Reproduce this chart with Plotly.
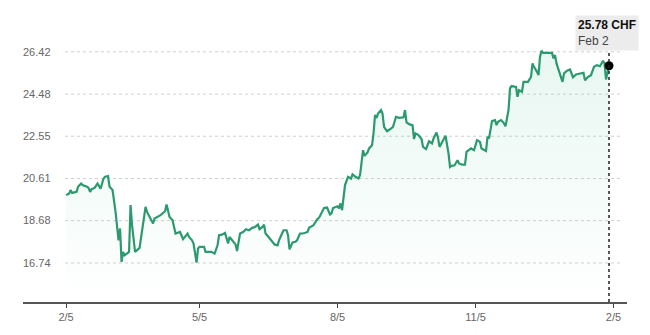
import plotly.graph_objects as go

# ---- data ----
dates = [
    "2023-02-05", "2023-02-07", "2023-02-08", "2023-02-09", "2023-02-12", "2023-02-13", "2023-02-15", "2023-02-16",
    "2023-02-19", "2023-02-20", "2023-02-21", "2023-02-22", "2023-02-24", "2023-02-26", "2023-02-28", "2023-03-02",
    "2023-03-03", "2023-03-05", "2023-03-06", "2023-03-08", "2023-03-10", "2023-03-11", "2023-03-12", "2023-03-13",
    "2023-03-14", "2023-03-15", "2023-03-16", "2023-03-19", "2023-03-20", "2023-03-21", "2023-03-23", "2023-03-26",
    "2023-03-29", "2023-03-30", "2023-03-31", "2023-04-02", "2023-04-04", "2023-04-05", "2023-04-09", "2023-04-12",
    "2023-04-13", "2023-04-15", "2023-04-17", "2023-04-19", "2023-04-22", "2023-04-24", "2023-04-25", "2023-04-27",
    "2023-04-28", "2023-04-30", "2023-05-01", "2023-05-03", "2023-05-04", "2023-05-05", "2023-05-08", "2023-05-09",
    "2023-05-11", "2023-05-13", "2023-05-15", "2023-05-17", "2023-05-18", "2023-05-20", "2023-05-22", "2023-05-24",
    "2023-05-25", "2023-05-28", "2023-05-29", "2023-05-30", "2023-06-01", "2023-06-03", "2023-06-05", "2023-06-07",
    "2023-06-09", "2023-06-11", "2023-06-13", "2023-06-14", "2023-06-16", "2023-06-17", "2023-06-18", "2023-06-20",
    "2023-06-22", "2023-06-24", "2023-06-26", "2023-06-27", "2023-06-29", "2023-06-30", "2023-07-02", "2023-07-03",
    "2023-07-04", "2023-07-06", "2023-07-08", "2023-07-09", "2023-07-11", "2023-07-13", "2023-07-16", "2023-07-17",
    "2023-07-20", "2023-07-22", "2023-07-24", "2023-07-26", "2023-07-27", "2023-07-29", "2023-07-31", "2023-08-01",
    "2023-08-02", "2023-08-05", "2023-08-06", "2023-08-07", "2023-08-08", "2023-08-10", "2023-08-11", "2023-08-12",
    "2023-08-14", "2023-08-15", "2023-08-17", "2023-08-19", "2023-08-20", "2023-08-21", "2023-08-22", "2023-08-23",
    "2023-08-25", "2023-08-26", "2023-08-28", "2023-08-29", "2023-08-30", "2023-08-31", "2023-09-01", "2023-09-03",
    "2023-09-04", "2023-09-05", "2023-09-07", "2023-09-09", "2023-09-11", "2023-09-13", "2023-09-15", "2023-09-18",
    "2023-09-19", "2023-09-20", "2023-09-22", "2023-09-24", "2023-09-25", "2023-09-26", "2023-09-28", "2023-09-30",
    "2023-10-01", "2023-10-03", "2023-10-05", "2023-10-07", "2023-10-08", "2023-10-10", "2023-10-11", "2023-10-12",
    "2023-10-14", "2023-10-16", "2023-10-18", "2023-10-19", "2023-10-20", "2023-10-22", "2023-10-24", "2023-10-25",
    "2023-10-27", "2023-10-29", "2023-10-30", "2023-11-02", "2023-11-04", "2023-11-06", "2023-11-08", "2023-11-09",
    "2023-11-12", "2023-11-13", "2023-11-14", "2023-11-16", "2023-11-18", "2023-11-19", "2023-11-20", "2023-11-22",
    "2023-11-24", "2023-11-25", "2023-11-27", "2023-11-28", "2023-11-29", "2023-12-02", "2023-12-03", "2023-12-04",
    "2023-12-06", "2023-12-07", "2023-12-10", "2023-12-12", "2023-12-13", "2023-12-14", "2023-12-16", "2023-12-17",
    "2023-12-18", "2023-12-19", "2023-12-20", "2023-12-23", "2023-12-26", "2023-12-27", "2023-12-28", "2023-12-29",
    "2023-12-31", "2024-01-02", "2024-01-03", "2024-01-05", "2024-01-07", "2024-01-08", "2024-01-09", "2024-01-11",
    "2024-01-14", "2024-01-16", "2024-01-17", "2024-01-19", "2024-01-21", "2024-01-23", "2024-01-25", "2024-01-27",
    "2024-01-29", "2024-01-30", "2024-01-31", "2024-02-02",
]

prices = [
    19.85, 19.92, 20.08, 19.95, 20.00, 20.23, 20.38, 20.31, 20.23, 20.18, 20.00, 20.12, 20.18, 20.38, 20.15, 20.61,
    20.69, 20.72, 20.23, 20.08, 19.08, 18.32, 17.78, 18.32, 16.79, 17.25, 17.09, 17.25, 19.39, 18.47, 17.25, 17.43,
    18.93, 19.31, 19.08, 18.78, 18.55, 18.78, 18.93, 19.11, 19.42, 18.85, 18.70, 18.09, 18.16, 17.83, 17.93, 18.09,
    17.93, 17.78, 17.63, 16.76, 17.40, 17.48, 17.48, 17.25, 17.25, 17.25, 17.17, 17.55, 18.01, 18.04, 18.12, 17.63,
    17.93, 17.71, 17.59, 17.29, 18.09, 18.16, 18.29, 18.24, 18.35, 18.39, 18.50, 18.29, 18.39, 18.50, 18.09, 17.93,
    17.74, 17.59, 17.55, 17.78, 18.09, 18.24, 18.24, 18.01, 17.36, 17.68, 17.71, 17.78, 18.09, 18.09, 18.16, 18.35,
    18.47, 18.70, 18.85, 19.08, 19.26, 19.28, 18.96, 19.01, 19.26, 19.34, 19.24, 19.47, 19.16, 20.31, 20.49, 20.69,
    20.61, 20.80, 20.69, 20.61, 20.76, 21.45, 21.91, 21.65, 21.81, 21.99, 22.14, 22.68, 23.52, 23.39, 23.59, 23.75,
    23.59, 22.98, 22.78, 22.87, 22.98, 23.44, 23.39, 23.42, 23.75, 23.18, 23.09, 23.06, 22.42, 22.68, 22.60, 22.42,
    22.06, 21.96, 22.32, 22.22, 22.45, 22.72, 22.48, 22.06, 22.29, 22.57, 21.76, 21.14, 21.19, 21.22, 21.45, 21.30,
    21.25, 21.25, 21.83, 21.99, 21.91, 22.37, 22.29, 21.99, 21.87, 22.52, 22.45, 23.24, 23.29, 23.06, 23.21, 23.29,
    23.14, 23.01, 23.75, 24.74, 24.85, 24.81, 24.36, 24.66, 24.59, 25.04, 25.04, 25.27, 25.89, 25.73, 25.50, 25.35,
    26.19, 26.47, 26.37, 26.37, 26.37, 26.12, 26.27, 25.89, 25.50, 25.04, 25.43, 25.55, 25.61, 25.43, 25.25, 25.38,
    25.43, 25.46, 25.12, 25.27, 25.35, 25.73, 25.81, 25.76, 26.01, 25.89, 25.15, 25.78,
]

y_ticks = [16.74, 18.68, 20.61, 22.55, 24.48, 26.42]
y_tick_labels = ["16.74", "18.68", "20.61", "22.55", "24.48", "26.42"]
x_ticks = ["2023-02-05", "2023-05-05", "2023-08-05", "2023-11-05", "2024-02-05"]
x_tick_labels = ["2/5", "5/5", "8/5", "11/5", "2/5"]
currency = "CHF"
last_label_date = "Feb 2"

assert len(dates) == len(prices)

LINE = "#2b9a6e"
FONT = "Liberation Sans, Arial, sans-serif"

fig = go.Figure()

fig.add_trace(go.Scatter(
    x=dates, y=prices, mode="lines",
    line=dict(color=LINE, width=2.2),
    fill="tozeroy",
    fillgradient=dict(
        type="vertical", start=15, stop=26.5,
        colorscale=[[0, "rgba(60,190,140,0.0)"], [1, "rgba(60,190,140,0.12)"]],
    ),
    hoverinfo="skip", showlegend=False,
))

fig.add_trace(go.Scatter(
    x=[dates[-1]], y=[prices[-1]], mode="markers",
    marker=dict(color="black", size=9),
    hoverinfo="skip", showlegend=False,
))

# dotted horizontal grid lines (start to the right of the labels)
for v in y_ticks:
    fig.add_shape(type="line", xref="paper", yref="y",
                  x0=0.0695, x1=0.993, y0=v, y1=v,
                  line=dict(color="#cfcfcf", width=1, dash="dot"), layer="below")

# dotted vertical cursor line at last point
fig.add_shape(type="line", xref="x", yref="paper",
              x0=dates[-1], x1=dates[-1], y0=0, y1=0.945,
              line=dict(color="#222", width=1.5, dash="dot"))

fig.add_annotation(
    xref="x", yref="paper", x=dates[-1], y=1.055,
    xanchor="center", yanchor="top", showarrow=False, align="left",
    text=f"<b>{prices[-1]:.2f} {currency}</b><br><span style='color:#444'>{last_label_date}</span>",
    font=dict(family=FONT, size=12, color="#111"),
    bgcolor="#ececec", borderpad=2, xshift=-2,
)

fig.update_layout(
    width=650, height=335,
    margin=dict(l=23, r=23, t=30, b=33),
    paper_bgcolor="white", plot_bgcolor="white",
    font=dict(family=FONT, size=11, color="#666"),
    hovermode=False,
    xaxis=dict(
        type="date",
        range=["2023-01-07 07:00", "2024-02-14"],
        tickvals=x_ticks, ticktext=x_tick_labels,
        showgrid=False, zeroline=False,
        showline=True, linecolor="#555", linewidth=1.5,
        ticks="outside", ticklen=4, tickcolor="#444", tickwidth=1,
        tickfont=dict(family=FONT, size=11, color="#666"),
    ),
    yaxis=dict(
        range=[14.95, 27.42],
        tickvals=y_ticks, ticktext=y_tick_labels,
        showgrid=False, zeroline=False, showline=False,
        ticks="", ticklabelposition="inside", ticklabelstandoff=-3,
        tickfont=dict(family=FONT, size=11, color="#666"),
    ),
)

fig.write_html("out.html")
